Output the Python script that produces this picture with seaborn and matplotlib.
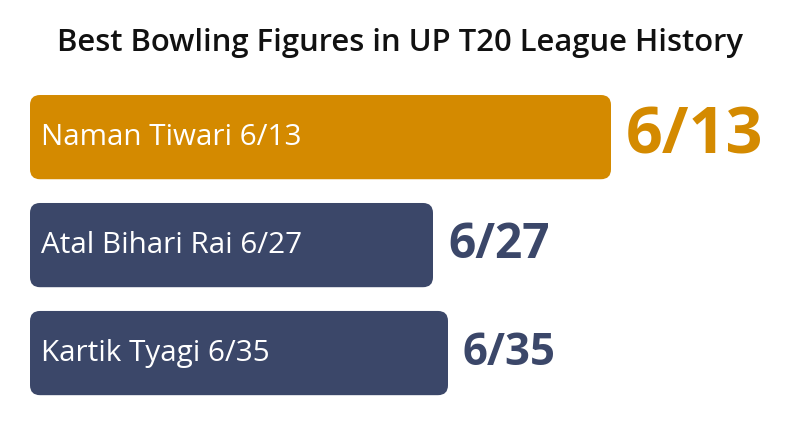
import matplotlib
matplotlib.use("Agg")
import matplotlib.pyplot as plt
from matplotlib.patches import FancyBboxPatch
import pandas as pd
import seaborn as sns

# data
players = ["Naman Tiwari", "Atal Bihari Rai", "Kartik Tyagi"]
figures = ["6/13", "6/27", "6/35"]
bar_score = [58.1, 40.3, 41.8]
highlight = [True, False, False]

ORANGE = "#D48A00"
NAVY = "#3B4769"

df = pd.DataFrame({
    "label": [f"{p} {f}" for p, f in zip(players, figures)],
    "score": bar_score,
    "group": ["top" if h else "rest" for h in highlight],
})

sns.set_theme(style="white")
plt.rcParams["font.family"] = ["Open Sans", "DejaVu Sans"]

fig = plt.figure(figsize=(8, 4.47), dpi=100)
ax = fig.add_axes([0, 0, 1, 1])
sns.barplot(data=df, x="score", y="label", hue="group", orient="h",
            palette={"top": ORANGE, "rest": NAVY}, width=0.78,
            saturation=1, dodge=False, legend=False, ax=ax)

ax.set_xlim(-3, 77)
ax.set_ylim(2.87, -1.27)

# swap square bars for rounded ones
for bar in list(ax.patches):
    x, y = bar.get_x(), bar.get_y()
    w, h = bar.get_width(), bar.get_height()
    if w <= 0:
        bar.remove()
        continue
    rounded = FancyBboxPatch((x, y), w, h,
                             boxstyle="round,pad=0,rounding_size=1.0",
                             mutation_aspect=0.0926,
                             facecolor=bar.get_facecolor(), edgecolor="none")
    bar.remove()
    ax.add_patch(rounded)

value_sizes = [46.5, 34.5, 31.5]
for i, row in df.iterrows():
    color = ORANGE if highlight[i] else NAVY
    ax.text(1.1, i, row["label"], color="white", fontsize=21.3,
            va="center", ha="left")
    ax.text(row["score"] + 1.5, i, figures[i], color=color,
            fontsize=value_sizes[i], fontweight="bold", va="center", ha="left")

fig.text(0.5, 1 - 43 / 447, "Best Bowling Figures in UP T20 League History",
         ha="center", va="center", fontsize=22.3, fontweight="semibold",
         color="#111111")

ax.axis("off")
fig.savefig("out.png", dpi=100, facecolor="white")
